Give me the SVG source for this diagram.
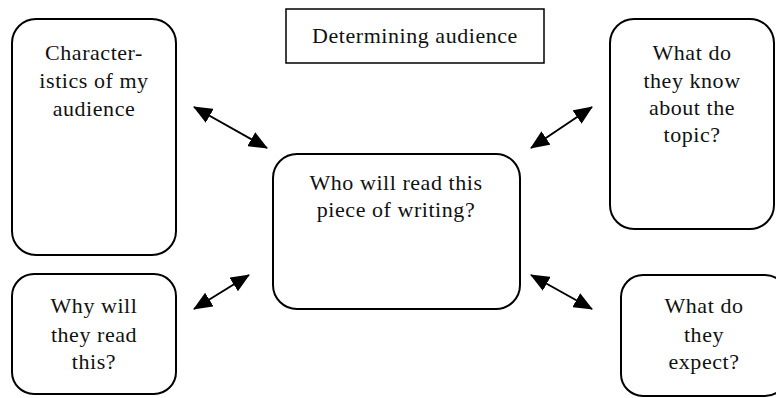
<svg xmlns="http://www.w3.org/2000/svg" width="776" height="398" viewBox="0 0 776 398">
<style>
.box{fill:#fff;stroke:#000;stroke-width:2}
.title{fill:#fff;stroke:#000;stroke-width:1.5}
text{font-family:"Liberation Serif","Times New Roman",serif;font-size:22px;fill:#111;text-anchor:middle;letter-spacing:0.55px}
.conn line{stroke:#000;stroke-width:2}
</style>
<defs>
<marker id="ah" markerUnits="userSpaceOnUse" markerWidth="19" markerHeight="16" refX="18" refY="8" orient="auto-start-reverse">
<path d="M0,0 L19,8 L0,16 z" fill="#000"/>
</marker>
</defs>
<rect width="776" height="398" fill="#fff"/>
<g id="title">
<rect class="title" x="286" y="9" width="258" height="54"/>
<text x="415" y="43">Determining audience</text>
</g>
<g id="characteristics">
<rect class="box" x="12" y="19" width="164" height="236" rx="24"/>
<text x="94" y="60">Character-</text>
<text x="94" y="88">istics of my</text>
<text x="94" y="116">audience</text>
</g>
<g id="know">
<rect class="box" x="610" y="19" width="164" height="210" rx="24"/>
<text x="692" y="60">What do</text>
<text x="692" y="88">they know</text>
<text x="692" y="115">about the</text>
<text x="692" y="142">topic?</text>
</g>
<g id="center">
<rect class="box" x="273" y="154" width="247" height="155" rx="24"/>
<text x="396" y="190">Who will read this</text>
<text x="396" y="217">piece of writing?</text>
</g>
<g id="why">
<rect class="box" x="12" y="274" width="164" height="120" rx="22"/>
<text x="94" y="313">Why will</text>
<text x="94" y="342">they read</text>
<text x="94" y="369">this?</text>
</g>
<g id="expect">
<rect class="box" x="621" y="275" width="166" height="121" rx="22"/>
<text x="704" y="313">What do</text>
<text x="704" y="342">they</text>
<text x="704" y="369">expect?</text>
</g>
<g id="connectors" class="conn">
<line x1="194" y1="107" x2="267" y2="148" marker-start="url(#ah)" marker-end="url(#ah)"/>
<line x1="531" y1="148" x2="592" y2="107" marker-start="url(#ah)" marker-end="url(#ah)"/>
<line x1="194" y1="309" x2="249" y2="275" marker-start="url(#ah)" marker-end="url(#ah)"/>
<line x1="531" y1="275" x2="592" y2="309" marker-start="url(#ah)" marker-end="url(#ah)"/>
</g>
</svg>
